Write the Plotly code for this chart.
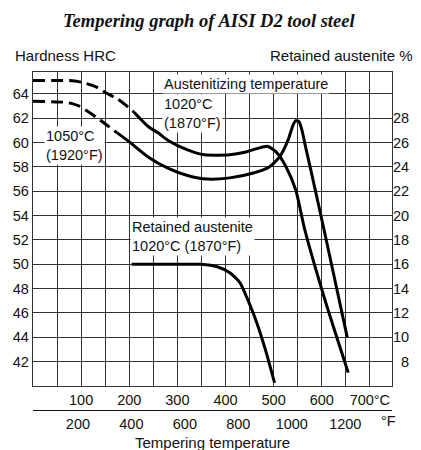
import plotly.graph_objects as go

# ---------------- data ----------------
# Hardness curve, austenitized at 1020°C (1870°F): dashed part then solid part
c1020_dash_x = [0, 40, 76, 102, 130, 151, 175, 192, 210]
c1020_dash_y = [65.1, 65.1, 65.1, 64.95, 64.6, 64.1, 63.6, 63.1, 62.5]
c1020_x = [210, 240, 260, 280, 321, 356, 409, 440, 465, 487, 506, 526, 546, 565, 608, 655]
c1020_y = [62.5, 61.3, 60.8, 60.2, 59.4, 59.0, 59.0, 59.2, 59.5, 59.7, 59.2, 58.0, 56.1, 52.8, 46.9, 41.1]

# Hardness curve, austenitized at 1050°C (1920°F)
c1050_dash_x = [0, 40, 70, 96, 131, 158, 175]
c1050_dash_y = [63.4, 63.35, 63.3, 63.0, 62.1, 61.3, 60.8]
c1050_x = [175, 199, 240, 280, 321, 362, 409, 458, 491, 512, 530, 540, 546, 553, 559, 565, 577, 605, 653]
c1050_y = [60.8, 60.1, 58.8, 57.9, 57.3, 57.0, 57.1, 57.5, 58.0, 58.8, 60.2, 61.4, 61.8, 61.7, 61.0, 59.9, 57.8, 52.8, 44.0]

# Retained austenite (%), 1020°C (1870°F)
ra_x = [205, 250, 300, 348, 383, 409, 430, 444, 465, 485, 502]
ra_y = [16.0, 16.0, 16.0, 16.0, 15.8, 15.3, 14.5, 13.3, 11.2, 8.7, 6.25]

# tick labels
celsius_ticks = [50, 100, 150, 200, 250, 300, 350, 400, 450, 500, 550, 600, 650, 700]
celsius_text = ["", "100", "", "200", "", "300", "", "400", "", "500", "", "600", "", "700°C"]
fahr_ticks = [200, 400, 600, 800, 1000, 1200]
hrc_ticks = [42, 44, 46, 48, 50, 52, 54, 56, 58, 60, 62, 64]
ra_ticks = [8, 10, 12, 14, 16, 18, 20, 22, 24, 26, 28]
ra_text = ["\u20078"] + [str(v) for v in ra_ticks[1:]]

# ---------------- layout geometry ----------------
W, H = 421, 450
L, R, T, B = 33, 398, 72, 410
XMIN, XMAX = 0, 746
YMIN, YMAX = 40, 65.8
Y2MIN, Y2MAX = 6, 31.8
ydom0 = (B - 386) / (B - T)

def paper(px, py):
    return (px - L) / (R - L), (B - py) / (B - T)

SANS = "Liberation Sans, Arial, sans-serif"
GRID = "#333333"
INK = "#111111"

fig = go.Figure()
line_style = dict(color="black", width=3, shape="spline", smoothing=0.6)
dash_style = dict(color="black", width=3, shape="spline", smoothing=0.6, dash="12px,6px")

fig.add_trace(go.Scatter(x=c1020_dash_x, y=c1020_dash_y, mode="lines", line=dash_style, showlegend=False))
fig.add_trace(go.Scatter(x=c1020_x, y=c1020_y, mode="lines", line=line_style, showlegend=False))
fig.add_trace(go.Scatter(x=c1050_dash_x, y=c1050_dash_y, mode="lines", line=dash_style, showlegend=False))
fig.add_trace(go.Scatter(x=c1050_x, y=c1050_y, mode="lines", line=line_style, showlegend=False))
fig.add_trace(go.Scatter(x=ra_x, y=ra_y, mode="lines", line=line_style, yaxis="y2", showlegend=False))
# invisible trace to activate the Fahrenheit axis
fig.add_trace(go.Scatter(x=[XMIN * 1.8 + 32, XMAX * 1.8 + 32], y=[None, None], mode="lines",
                         xaxis="x2", showlegend=False, hoverinfo="skip"))

tickfont = dict(family=SANS, size=14.5, color=INK)
fig.update_layout(
    width=W, height=H,
    margin=dict(l=L, r=W - R, t=T, b=H - B, pad=0),
    paper_bgcolor="white", plot_bgcolor="white",
    xaxis=dict(range=[XMIN, XMAX], tickvals=celsius_ticks, ticktext=celsius_text,
               showgrid=True, gridcolor=GRID, gridwidth=1.1, zeroline=False,
               showline=True, linecolor=GRID, linewidth=1.3, mirror=True,
               ticks="", tickfont=tickfont, anchor="y"),
    xaxis2=dict(range=[XMIN * 1.8 + 32, XMAX * 1.8 + 32], tickvals=fahr_ticks,
                overlaying="x", side="bottom", anchor="free", position=0,
                showgrid=False, zeroline=False, showline=True, linecolor=INK, linewidth=1.3,
                ticks="", tickfont=tickfont),
    yaxis=dict(range=[YMIN, YMAX], domain=[ydom0, 1], tickvals=hrc_ticks,
               showgrid=True, gridcolor=GRID, gridwidth=1.1, zeroline=False,
               showline=True, linecolor=GRID, linewidth=1.3, mirror=True,
               ticks="", tickfont=tickfont),
    yaxis2=dict(range=[Y2MIN, Y2MAX], overlaying="y", side="right", tickvals=ra_ticks,
                ticktext=ra_text, showgrid=False, zeroline=False, showline=False,
                ticks="", tickfont=tickfont),
)

def ann(text, px, py, xanchor="left", size=15, font=SANS, bg=None, align="left"):
    x, y = paper(px, py)
    d = dict(text=text, x=x, y=y, xref="paper", yref="paper", xanchor=xanchor, yanchor="middle",
             showarrow=False, align=align, font=dict(family=font, size=size, color=INK))
    if bg:
        d.update(bgcolor=bg, borderpad=1)
    fig.add_annotation(**d)

ann("<b><i>Tempering graph of AISI D2 tool steel</i></b>", 212, 21, xanchor="center", size=18.5,
    font="Liberation Serif, Times New Roman, serif")
ann("Hardness HRC", 13, 55, size=15)
ann("Retained austenite %", 421, 55, xanchor="right", size=15)
ann("Tempering temperature", 216, 442, xanchor="center", size=15)
ann("°F", 394, 421, xanchor="center", size=14.5)
ann("Austenitizing temperature", 164, 84, size=14.5, bg="white")
ann("1020°C<br>(1870°F)", 164, 114, size=14.5, bg="white")
ann("1050°C<br>(1920°F)", 44, 145, size=14.5, bg="white")
ann("Retained austenite<br>1020°C (1870°F)", 132, 236, size=14.5, bg="white")

fig.write_html("out.html", config={"displayModeBar": False},
               post_script="document.body.style.margin='0';")
